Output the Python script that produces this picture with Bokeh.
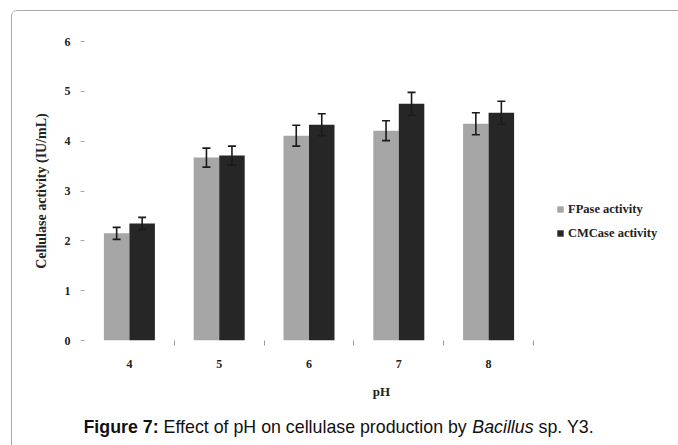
from bokeh.plotting import figure
from bokeh.layouts import column
from bokeh.models import (ColumnDataSource, Whisker, TeeHead, FixedTicker, Legend, LegendItem, Range1d)
from bokeh.core.properties import value
from bokeh.embed import file_html
from bokeh.resources import INLINE

# ---- data ----
ph = [4, 5, 6, 7, 8]
fpase = [2.15, 3.67, 4.11, 4.21, 4.35]
fpase_err = [0.12, 0.19, 0.21, 0.20, 0.22]
cmcase = [2.35, 3.71, 4.33, 4.75, 4.57]
cmcase_err = [0.12, 0.19, 0.22, 0.23, 0.23]
series_names = ["FPase activity", "CMCase activity"]
y_ticks = [0, 1, 2, 3, 4, 5, 6]
caption_parts = ["Figure 7:", "Effect of pH on cellulase production by", "Bacillus", "sp. Y3."]

# ---- style ----
BW = 0.284
C_FP = "#a6a6a6"
C_CM = "#262626"
SERIF = "Liberation Serif"
SANS = "Liberation Sans"

# frame spans x=84..678 on the page; categories occupy 3.5..8.5 (x=84..533), legend sits to the right
p = figure(width=666, height=394, output_backend="svg", toolbar_location=None,
           x_range=Range1d(3.5, 3.5 + 594 / 89.8), y_range=Range1d(0, 6),
           min_border_left=72, min_border_right=0, min_border_top=30, min_border_bottom=65)
p.outline_line_color = None
p.xgrid.visible = False
p.ygrid.visible = False
p.border_fill_color = "white"

def src(vals, errs, off):
    return ColumnDataSource(dict(
        x=[v + off for v in ph], top=vals,
        upper=[v + e for v, e in zip(vals, errs)],
        lower=[v - e for v, e in zip(vals, errs)]))

s_fp = src(fpase, fpase_err, -BW / 2)
s_cm = src(cmcase, cmcase_err, BW / 2)

r_fp = p.vbar(x="x", top="top", bottom=0, width=BW, source=s_fp, fill_color=C_FP, line_color=None)
r_cm = p.vbar(x="x", top="top", bottom=0, width=BW, source=s_cm, fill_color=C_CM, line_color=None)

for s in (s_fp, s_cm):
    w = Whisker(base="x", upper="upper", lower="lower", source=s, line_color="#1a1a1a", line_width=1.6,
                level="overlay",
                upper_head=TeeHead(size=8, line_color="#1a1a1a", line_width=1.6),
                lower_head=TeeHead(size=8, line_color="#1a1a1a", line_width=1.6))
    p.add_layout(w)

# axes
xa = p.xaxis[0]
xa.ticker = FixedTicker(ticks=ph, minor_ticks=[v + 0.5 for v in ph])
xa.axis_line_color = None
xa.major_tick_line_color = None
xa.minor_tick_line_color = "#999999"
xa.minor_tick_out = 5
xa.minor_tick_in = 0
xa.major_label_standoff = 13
xa.major_label_text_font = SERIF
xa.major_label_text_font_style = "bold"
xa.major_label_text_font_size = "12px"
xa.major_label_text_color = "#222222"
xa.axis_label = "pH"
xa.axis_label_text_font = SERIF
xa.axis_label_text_font_style = "bold"
xa.axis_label_text_font_size = "13px"
xa.axis_label_text_color = "#222222"
xa.axis_label_standoff = 13

ya = p.yaxis[0]
ya.ticker = FixedTicker(ticks=y_ticks, minor_ticks=[])
ya.axis_line_color = None
ya.major_tick_line_color = "#aaaaaa"
ya.major_tick_out = 4
ya.major_tick_in = 0
ya.minor_tick_line_color = None
ya.major_label_standoff = 10
ya.major_label_text_font = SERIF
ya.major_label_text_font_style = "bold"
ya.major_label_text_font_size = "12px"
ya.major_label_text_color = "#222222"
ya.axis_label = "Cellulase activity (IU/mL)"
ya.axis_label_text_font = SERIF
ya.axis_label_text_font_style = "bold"
ya.axis_label_text_font_size = "14px"
ya.axis_label_text_color = "#222222"
ya.axis_label_standoff = 13

legend = Legend(items=[LegendItem(label=series_names[0], renderers=[r_fp]),
                       LegendItem(label=series_names[1], renderers=[r_cm])],
                location=(472, 99), orientation="vertical",
                glyph_width=8, glyph_height=8, label_height=16, spacing=8,
                padding=0, margin=0, label_standoff=4,
                border_line_color=None, background_fill_alpha=0,
                label_text_font=SERIF, label_text_font_style="bold",
                label_text_font_size="12.5px", label_text_color="#222222")
p.add_layout(legend, "center")

# caption strip: frame aligned with the main frame (page x 84..678)
cap = figure(width=666, height=60, output_backend="svg", toolbar_location=None,
             x_range=Range1d(84, 678), y_range=Range1d(465, 405),
             min_border_left=72, min_border_right=0, min_border_top=0, min_border_bottom=0,
             x_axis_type=None, y_axis_type=None)
cap.outline_line_color = None
cap.xgrid.visible = False
cap.ygrid.visible = False
fs = 17.8
styles = ["bold", "normal", "italic", "normal"]
units = [4223, 17064, 3445, 3113]   # approximate advance widths (1/1000 em)
SPACE = 278
x0 = 83.0
for txt, st, u in zip(caption_parts, styles, units):
    cap.text(x=[x0], y=[426], text=[txt], text_font=value(SANS), text_font_style=st,
             text_font_size=f"{fs}px", text_color="#111111", text_baseline="alphabetic",
             text_align="left")
    x0 += (u + SPACE) * fs / 1000.0

layout = column(p, cap, margin=(10, 0, 0, 11), spacing=0,
                styles={"border-left": "1px solid #aaaaaa", "border-top": "1px solid #aaaaaa",
                        "border-top-left-radius": "6px"})

open("out.html", "w").write(file_html(layout, INLINE))
